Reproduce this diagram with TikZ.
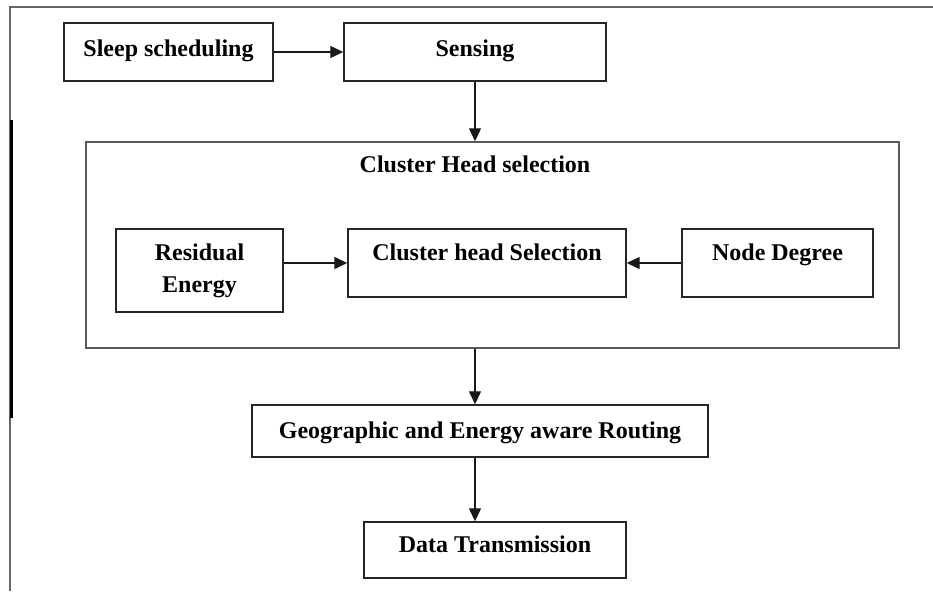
\documentclass[tikz,border=0pt]{standalone}
\usepackage{fontspec}
\setmainfont{Liberation Serif}
\usetikzlibrary{arrows.meta}

\tikzset{
  box/.style={draw=black!85, line width=1.4pt, inner sep=0pt,
    font=\fontsize{24}{32}\selectfont\bfseries},
  arr/.style={draw=black!90, line width=1.3pt, -{Triangle[length=13pt,width=12pt]}},
}

\begin{document}
\begin{tikzpicture}[x=1pt,y=-1pt]
	\useasboundingbox (0,0) rectangle (933,591);
	% page frame
	\draw[black!60, line width=1.5pt] (933,7) -- (10,7) -- (10,591);
	\draw[line width=3pt] (11,120) -- (11,418);
	% top row
	\node[box, minimum width=209pt, minimum height=58pt, text height=33.5pt, text depth=24.5pt] (sleep) at (168.5,52) {Sleep scheduling};
	\node[box, minimum width=262pt, minimum height=58pt, text height=33.5pt, text depth=24.5pt] (sensing) at (475,52) {Sensing};
	% cluster head block
	\node[draw=black!65, line width=1.5pt, minimum width=813pt, minimum height=206pt] (chframe) at (492.5,245) {};
	\node[font=\fontsize{24}{32}\selectfont\bfseries, inner sep=0pt, anchor=base] (chtitle) at (475,172) {Cluster Head selection};
	\node[box, align=center, minimum width=167pt, minimum height=83pt] (residual) at (199.5,270.5) {Residual\\Energy};
	\node[box, minimum width=278pt, minimum height=68pt, text height=31pt, text depth=37pt] (chs) at (487,263) {Cluster head Selection};
	\node[box, minimum width=191pt, minimum height=68pt, text height=31pt, text depth=37pt] (nodedeg) at (777.5,263) {Node Degree};
	% routing and transmission
	\node[box, minimum width=456pt, minimum height=52pt, text height=33pt, text depth=19pt] (geo) at (480,431) {Geographic and Energy aware Routing};
	\node[box, minimum width=262pt, minimum height=56pt, text height=30pt, text depth=26pt] (data) at (495,550) {Data Transmission};
	% arrows
	\draw[arr] (sleep) -- (sensing);
	\draw[arr] (sensing.south) -- (sensing.south |- chframe.north);
	\draw[arr] (residual.east |- chs.west) -- (chs.west);
	\draw[arr] (nodedeg) -- (chs);
	\draw[arr] (sensing.south |- chframe.south) -- (sensing.south |- geo.north);
	\draw[arr] (sensing.south |- geo.south) -- (sensing.south |- data.north);
\end{tikzpicture}
\end{document}
